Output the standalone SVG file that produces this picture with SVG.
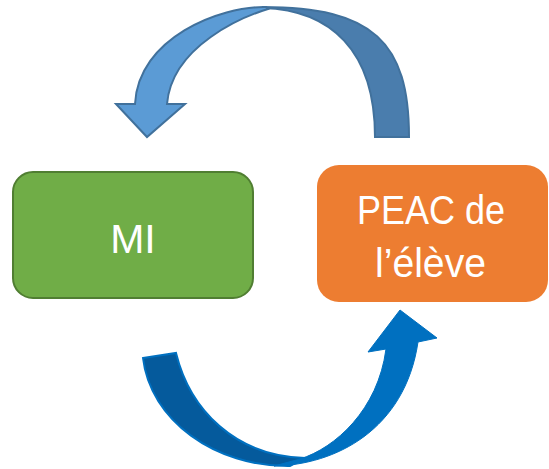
<svg xmlns="http://www.w3.org/2000/svg" width="549" height="469" viewBox="0 0 549 469">
<style>
.lbl{font-family:"Liberation Sans","Open Sans",Arial,sans-serif;font-size:41px;fill:#FFFFFF;text-anchor:middle}
.topLight{fill:#5B9BD5;stroke:#41719C;stroke-width:2;stroke-linejoin:miter}
.topDark{fill:#4A7DAD;stroke:#41719C;stroke-width:2}
.botDark{fill:#055A9C;stroke:#0070C0;stroke-width:2}
.botLight{fill:#0070C0;stroke:#0070C0;stroke-width:1}
</style>
<rect width="549" height="469" fill="#FFFFFF"/>
<g id="connectors">
  <g id="arrow-top">
    <path class="topDark" d="M263,7 C373,7 409,42 409,137 L375,137 C375,50 330,10 263,8 Z"/>
    <path class="topLight" d="M266,7 C220,6 138,38 135,104 L116,104 L147,137 L185,104 L167,104 C172,45 245,16 268,9 Z"/>
  </g>
  <g id="arrow-bottom">
    <path class="botDark" d="M143,358 L176,353 C190,410 235,456 305,458 L290,466 C215,467 150,420 143,358 Z"/>
    <path class="botLight" d="M274,466 C335,465 405,430 418,342 L437,338 L400,310 L368,352 L386,349 C378,410 335,448 300,459 Z"/>
  </g>
</g>
<g id="node-mi">
  <rect x="13" y="172" width="240" height="126" rx="20" ry="20" fill="#70AD47" stroke="#507E32" stroke-width="2"/>
  <text class="lbl" x="133" y="252.5">MI</text>
</g>
<g id="node-peac">
  <rect x="317" y="165" width="231" height="137" rx="22" ry="22" fill="#ED7D31"/>
  <text class="lbl" x="431" y="223.5" textLength="148" lengthAdjust="spacingAndGlyphs">PEAC de</text>
  <text class="lbl" x="430.5" y="276.5" textLength="111" lengthAdjust="spacingAndGlyphs">l’élève</text>
</g>
</svg>
